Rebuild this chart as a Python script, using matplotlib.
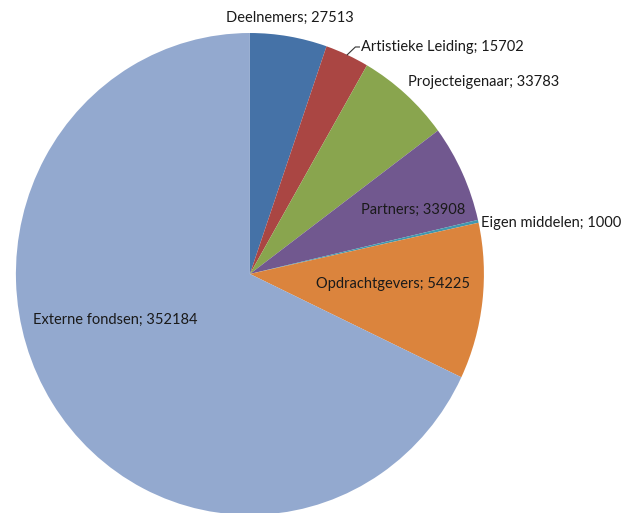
import numpy as np
import matplotlib
matplotlib.use('Agg')
import matplotlib.pyplot as plt

plt.rcParams['font.family'] = ['Lato', 'DejaVu Sans']

categories = ['Deelnemers', 'Artistieke Leiding', 'Projecteigenaar', 'Partners',
              'Eigen middelen', 'Opdrachtgevers', 'Externe fondsen']
values = [27513, 15702, 33783, 33908, 1000, 54225, 352184]
colors = ['#4572A7', '#AA4643', '#89A54E', '#71588F', '#4198AF', '#DB843D', '#93A9CF']

# label placement (x, y in pie-radius units, alignment)
label_pos = {
    'Deelnemers': (0.171, 1.062, 'center'),
    'Artistieke Leiding': (0.474, 0.942, 'left'),
    'Projecteigenaar': (0.675, 0.797, 'left'),
    'Partners': (0.919, 0.266, 'right'),
    'Eigen middelen': (0.987, 0.212, 'left'),
    'Opdrachtgevers': (0.611, -0.041, 'center'),
    'Externe fondsen': (-0.577, -0.191, 'center'),
}

fig = plt.figure(figsize=(6.4, 5.13), dpi=100)
ax = fig.add_axes([0, 0, 1, 1])
wedges, _ = ax.pie(values, colors=colors, startangle=90, counterclock=False,
                   radius=1.0, wedgeprops=dict(linewidth=0))
# original chart is slightly stretched vertically
ax.set_aspect('auto')
ax.set_xlim(-1.068, 1.667)
ax.set_ylim(-0.992, 1.137)
ax.axis('off')

for w, name, val in zip(wedges, categories, values):
    x, y, ha = label_pos[name]
    ax.text(x, y, f'{name}; {val}', ha=ha, va='center', fontsize=10.5, color='#1a1a1a')

# leader line for the small slice
w = wedges[1]
mid = np.deg2rad((w.theta1 + w.theta2) / 2)
ax.plot([np.cos(mid), np.cos(mid) + 0.035, 0.468], [np.sin(mid), 0.942, 0.942],
        color='#333333', lw=0.8)

fig.savefig('out.png', dpi=100)
